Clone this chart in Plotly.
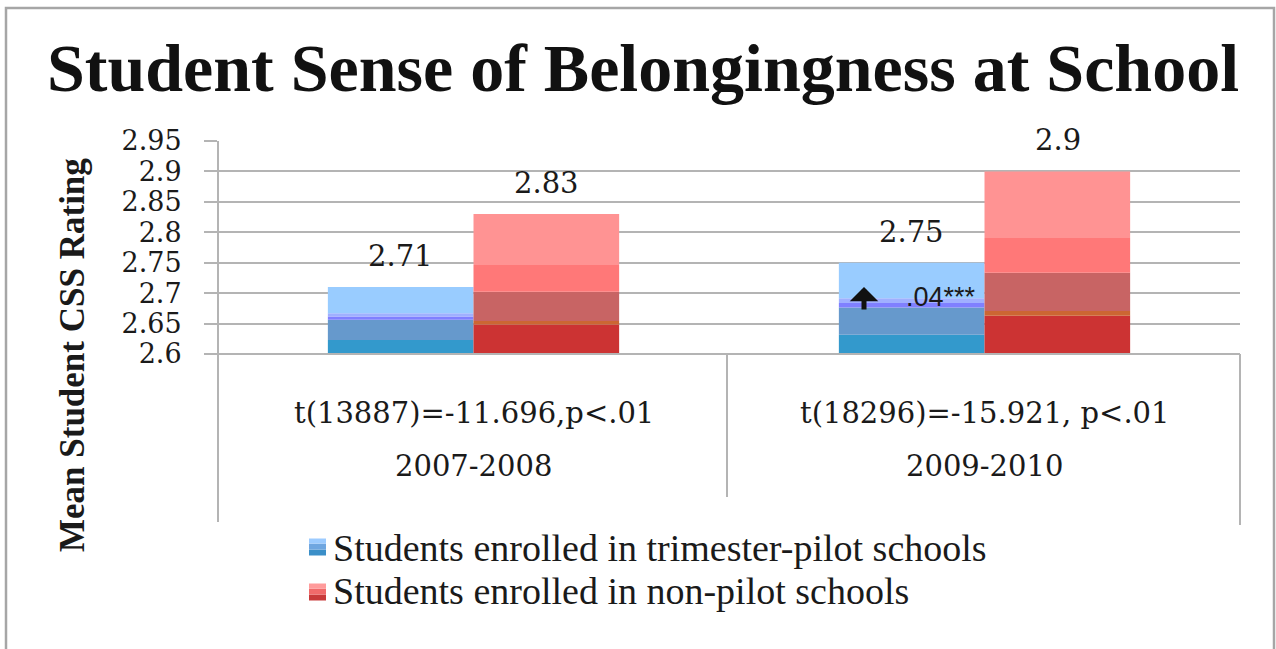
import plotly.graph_objects as go

# ---------------- data ----------------
years = ["2007-2008", "2009-2010"]
t_stats = ["t(13887)=-11.696,p<.01", "t(18296)=-15.921, p<.01"]
pilot_means = [2.71, 2.75]
nonpilot_means = [2.83, 2.90]
series_names = ["Students enrolled in trimester-pilot schools",
                "Students enrolled in non-pilot schools"]
tick_values = [2.6, 2.65, 2.7, 2.75, 2.8, 2.85, 2.9, 2.95]
tick_labels = ["2.6", "2.65", "2.7", "2.75", "2.8", "2.85", "2.9", "2.95"]
change_note = ".04***"

# ---------------- style ----------------
W, H = 1276, 649
L, R, T, B = 218, 36, 141, 295   # plot area 218..1240 x 141..354
PW, PH = W - L - R, H - T - B
BASELINE = tick_values[0]
SERIF = "Liberation Serif, Times New Roman, serif"
WSERIF = "DejaVu Serif, serif"
SANS = "Liberation Sans, Arial, sans-serif"
GRID = "#b4b4b4"
TXT = "#1a1a1a"

# banded "gradient" fills (bottom -> top), fraction of bar height
blue_bands = [(0.21, "#3399cc"), (0.30, "#6699cc"), (0.05, "#8080ff"),
              (0.05, "#a0b0ff"), (0.39, "#99ccff")]
red_bands = [(0.21, "#cc3333"), (0.025, "#cc6633"), (0.21, "#c86464"),
             (0.19, "#ff7878"), (0.365, "#ff9393")]


def px(xp):
    return (xp - L) / PW


def py(yp):
    return (T + PH - yp) / PH


fig = go.Figure()
for name, vals, bands in [(series_names[0], pilot_means, blue_bands),
                          (series_names[1], nonpilot_means, red_bands)]:
    cum = 0.0
    for frac, col in bands:
        fig.add_trace(go.Bar(
            x=years,
            y=[frac * (v - BASELINE) for v in vals],
            base=[BASELINE + cum * (v - BASELINE) for v in vals],
            offsetgroup=name, name=name, showlegend=False,
            marker=dict(color=col, line=dict(width=0)),
            hoverinfo="skip"))
        cum += frac

shapes = []
line = dict(color=GRID, width=2)
# outer frame
shapes.append(dict(type="rect", xref="paper", yref="paper",
                   x0=px(6), x1=px(1274), y0=py(670), y1=py(8),
                   line=dict(color="#a6a6a6", width=2.5), layer="below"))
# axis lines / category dividers
shapes.append(dict(type="line", xref="paper", yref="paper", x0=0, x1=0,
                   y0=py(522), y1=1, line=line))
shapes.append(dict(type="line", xref="paper", yref="paper", x0=0, x1=1,
                   y0=0, y1=0, line=line))
shapes.append(dict(type="line", xref="paper", yref="paper", x0=px(727), x1=px(727),
                   y0=py(497), y1=0, line=line))
shapes.append(dict(type="line", xref="paper", yref="paper", x0=1, x1=1,
                   y0=py(525), y1=0, line=line))

# legend icons (banded squares)
for (yc, bands) in [(547, [("#3b8fc8", 0.0, 0.35), ("#6fa6e0", 0.35, 0.7), ("#9ccbff", 0.7, 1.0)]),
                    (592, [("#c83a3a", 0.0, 0.35), ("#f06a6a", 0.35, 0.7), ("#ff9b9b", 0.7, 1.0)])]:
    for col, f0, f1 in bands:
        shapes.append(dict(type="rect", xref="paper", yref="paper",
                           x0=px(309), x1=px(326),
                           y0=py(yc + 8.5 - 17 * f0), y1=py(yc + 8.5 - 17 * f1),
                           line=dict(width=0), fillcolor=col))

annotations = []
# value labels
for i, yr in enumerate(years):
    annotations.append(dict(x=yr, y=pilot_means[i], xref="x", yref="y",
                            text=f"{pilot_means[i]:g}", showarrow=False,
                            xshift=-73, yshift=31, xanchor="center", yanchor="middle",
                            font=dict(family=WSERIF, size=29, color=TXT)))
    annotations.append(dict(x=yr, y=nonpilot_means[i], xref="x", yref="y",
                            text=f"{nonpilot_means[i]:g}", showarrow=False,
                            xshift=73, yshift=31, xanchor="center", yanchor="middle",
                            font=dict(family=WSERIF, size=29, color=TXT)))
    # category labels
    annotations.append(dict(x=yr, y=py(413), xref="x", yref="paper",
                            text=t_stats[i], showarrow=False,
                            xanchor="center", yanchor="middle",
                            font=dict(family=WSERIF, size=29, color=TXT)))
    annotations.append(dict(x=yr, y=py(466), xref="x", yref="paper",
                            text=yr, showarrow=False,
                            xanchor="center", yanchor="middle",
                            font=dict(family=WSERIF, size=29, color=TXT)))

# y axis title
annotations.append(dict(x=px(72), y=py(355), xref="paper", yref="paper",
                        text="<b>Mean Student CSS Rating</b>", textangle=-90,
                        showarrow=False, xanchor="center", yanchor="middle",
                        font=dict(family=SERIF, size=35, color=TXT)))
# legend text
for name, yc in [(series_names[0], 548), (series_names[1], 591)]:
    annotations.append(dict(x=px(331), y=py(yc), xref="paper", yref="paper",
                            text=name, showarrow=False, xanchor="left",
                            yanchor="middle",
                            font=dict(family=SERIF, size=38, color=TXT)))
# change note with arrow
annotations.append(dict(x=px(864), y=py(287), xref="paper", yref="paper",
                        ax=0, ay=24, text="", showarrow=True,
                        arrowhead=1, arrowsize=0.95, arrowwidth=5,
                        arrowcolor="#111111"))
annotations.append(dict(x=px(904), y=py(297), xref="paper", yref="paper",
                        text=change_note, showarrow=False, xanchor="left",
                        yanchor="middle",
                        font=dict(family=SANS, size=27, color=TXT)))

fig.update_layout(
    width=W, height=H,
    margin=dict(l=L, r=R, t=T, b=B),
    paper_bgcolor="white", plot_bgcolor="white",
    barmode="group", bargap=0.43, bargroupgap=0,
    showlegend=False,
    title=dict(text="<b>Student Sense of Belongingness at School</b>",
               x=643 / W, xref="container", xanchor="center",
               y=1 - 67 / H, yref="container", yanchor="middle",
               font=dict(family=SERIF, size=68, color="#111111")),
    xaxis=dict(type="category", showticklabels=False, showgrid=False,
               zeroline=False, showline=False, ticks=""),
    yaxis=dict(range=[tick_values[0], tick_values[-1]], tickvals=tick_values,
               ticktext=tick_labels, showgrid=True, gridcolor=GRID, gridwidth=2,
               zeroline=False, showline=False, ticks="outside", ticklen=13,
               tickwidth=2, tickcolor=GRID, ticklabelstandoff=17,
               tickfont=dict(family=WSERIF, size=27, color=TXT)),
    shapes=shapes, annotations=annotations,
)

fig.write_html("out.html", config={"displayModeBar": False},
               post_script="document.body.style.margin='0';document.body.style.overflow='hidden';")
